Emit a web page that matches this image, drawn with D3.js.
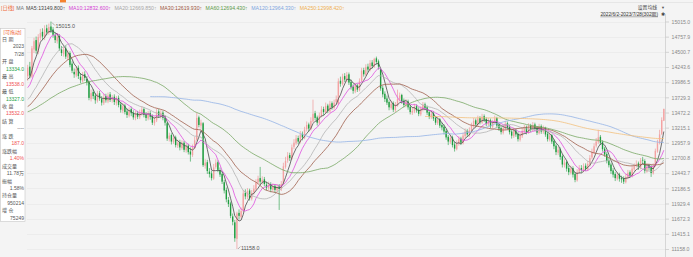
<!DOCTYPE html>
<html><head><meta charset="utf-8">
<script src="https://cdn.jsdelivr.net/npm/d3@7"></script>
<style>
html,body{margin:0;padding:0;background:#f4f4f4;overflow:hidden}
svg{display:block;font-family:"Liberation Sans","Noto Sans CJK SC",sans-serif}
</style></head><body>
<svg id="c" width="693" height="257"></svg>
<script>
// ---- data ----
const yTicks = [15015.0,14757.9,14500.7,14243.6,13986.5,13729.3,13472.2,13215.1,12957.9,12700.8,12443.7,12186.5,11929.4,11672.3,11415.1,11158.0];
const highMark = 15015.0, lowMark = 11158.0;
const maPeriods = [5,10,20,30,60,120,250];
const maNames = ["MA5","MA10","MA20","MA30","MA60","MA120","MA250"];
const maLegendValues = [13149.800,12832.600,12669.850,12619.930,12694.430,12964.330,12998.420];
const rangeText = "2022/6/2-2023/7/28(302期)";
const lastDate = ["2023","7/28"];
const volumeText = "11.78万", oiText = "950214", oiChangeText = "75249";
// closes before the first visible bar (estimated from where the MA lines start)
const priorCloses = [13420,13480,13390,13450,13520,13460,13380,13440,13500,13470,
13410,13360,13430,13490,13450,13380,13320,13400,13460,13420,
13350,13300,13380,13440,13400,13330,13290,13360,13420,13380,
13310,13260,13340,13400,13370,13300,13250,13330,13390,13350,
13290,13330,13400,13360,13420,13480,13440,13500,13560,13520,
13580,13650,13620,13700,13780,13850,13820,13920,14000,13960,14050];
const open = [14090,14250,14080,14540,14700,14500,14740,14840,14740,14900,
14820,14930,14880,14780,14680,14770,14540,14460,14560,14400,
14480,14300,14160,14100,14230,14080,14000,14120,14040,13990,
13700,13820,13760,13670,13800,13700,13630,13750,13660,13780,
13680,13740,13630,13720,13610,13500,13590,13490,13420,13530,
13470,13380,13460,13390,13460,13530,13440,13370,13460,13410,
13290,13340,13490,13410,13470,13390,13290,13020,13090,12970,
13050,12910,12970,12870,12960,12830,12910,12810,12750,12870,
13010,13390,13250,13290,12570,12630,12470,12440,12350,12550,
12630,12490,12430,12290,12160,11990,11930,11710,11610,11330,
11770,11700,11810,12110,12040,12150,12010,12120,12170,12290,
12360,12290,12340,12250,12190,12260,12160,12230,12150,12220,
12170,12270,12550,12660,12750,12690,12890,12950,13040,12970,
13110,13040,13190,13270,13190,13320,13460,13390,13290,13410,
13530,13470,13590,13490,13630,13550,13650,13620,14010,13950,
14090,14020,14120,13990,13910,13830,13930,13850,14010,14190,
14110,14250,14190,14320,14250,14390,14340,14200,13890,13790,
13710,13650,13550,13630,13510,13590,13690,13770,13670,13590,
13660,13570,13470,13490,13580,13520,13440,13520,13610,13560,
13480,13390,13460,13380,13290,13360,13260,13230,13160,13060,
12970,13050,12930,12850,12940,13030,12950,13070,13160,13090,
13160,13240,13340,13260,13380,13300,13410,13360,13270,13340,
13230,13310,13380,13260,13210,13130,13200,13290,13230,13150,
13070,13170,13110,13010,13070,13150,13220,13130,13250,13170,
13270,13210,13120,13240,13140,13210,13110,13010,13090,12990,
12910,12790,12850,12730,12580,12630,12530,12450,12530,12430,
12320,12470,12530,12490,12570,12510,12590,12710,12790,12910,
12970,13060,12970,12860,12770,12660,12590,12490,12430,12350,
12420,12360,12350,12290,12370,12460,12390,12510,12570,12610,
12530,12670,12650,12470,12570,12540,12440,12570,12810,12960,
13110,13334];
const high = [14280,14330,14600,14740,14760,14800,14890,14900,14950,14960,
14980,15015,14920,14830,14820,14800,14600,14590,14610,14530,
14510,14340,14220,14260,14270,14140,14160,14170,14090,14010,
13860,13870,13800,13840,13840,13750,13790,13790,13810,13820,
13770,13780,13750,13760,13650,13630,13620,13540,13560,13570,
13510,13500,13500,13520,13580,13560,13480,13500,13500,13440,
13400,13540,13530,13510,13500,13420,13310,13130,13120,13090,
13080,13010,13010,13000,12990,12950,12940,12880,12930,13060,
13470,13420,13350,13310,12680,12670,12530,12480,12600,12680,
12660,12540,12460,12330,12200,12040,11960,11760,11650,11790,
11830,11860,12160,12170,12190,12180,12160,12240,12340,12400,
12550,12390,12380,12300,12300,12290,12270,12260,12260,12260,
12310,12620,12720,12800,12790,12930,13020,13090,13080,13160,
13150,13230,13320,13300,13390,13690,13500,13420,13470,13580,
13570,13640,13620,13670,13660,13690,13760,14050,14080,14130,
14140,14160,14150,14030,13950,13970,13960,14050,14230,14230,
14290,14300,14360,14360,14400,14420,14370,14220,13930,13830,
13760,13680,13670,13660,13650,13860,13810,13790,13710,13700,
13690,13600,13560,13620,13610,13560,13580,13650,13640,13590,
13510,13500,13490,13410,13400,13380,13300,13270,13190,13090,
13090,13080,12970,13000,13070,13060,13130,13200,13190,13220,
13300,13380,13370,13420,13410,13450,13440,13390,13380,13370,
13350,13420,13400,13290,13240,13260,13330,13320,13260,13180,
13210,13200,13140,13130,13210,13260,13250,13290,13280,13310,
13300,13240,13280,13270,13250,13230,13140,13130,13110,13020,
12940,12890,12880,12760,12680,12660,12570,12570,12560,12460,
12510,12580,12580,12610,12610,12650,12750,12860,12950,13040,
13180,13090,13000,12890,12800,12700,12620,12530,12460,12460,
12450,12400,12390,12430,12500,12490,12570,12610,12660,12640,
12700,12720,12680,12610,12600,12580,12610,12860,13010,13180,
13390,13538];
const low = [14010,14050,14060,14480,14470,14460,14690,14700,14700,14780,
14790,14820,14740,14650,14640,14520,14430,14420,14380,14360,
14240,14140,14060,14070,14040,13970,13980,14010,13930,13680,
13660,13700,13620,13640,13670,13590,13600,13640,13630,13650,
13640,13600,13590,13560,13470,13460,13440,13380,13390,13410,
13350,13340,13360,13360,13420,13390,13330,13340,13350,13260,
13250,13310,13380,13370,13340,13250,12990,12980,12930,12940,
12880,12870,12830,12840,12800,12790,12760,12640,12720,12850,
12990,13220,13200,12550,12520,12430,12370,12320,12330,12520,
12460,12380,12260,12100,11950,11870,11680,11560,11280,11158,
11660,11670,11780,12000,12000,11980,11980,12080,12140,12250,
12260,12250,12220,12150,12160,12120,12130,12110,12120,11820,
12140,12250,12520,12620,12650,12670,12850,12920,12940,12950,
13000,13020,13150,13150,13170,13300,13340,13250,13270,13390,
13430,13450,13460,13470,13520,13520,13610,13600,13910,13930,
13990,13990,13940,13860,13790,13800,13820,13830,13990,14080,
14090,14150,14170,14220,14230,14290,14200,13840,13730,13650,
13600,13510,13520,13480,13480,13570,13660,13620,13560,13560,
13520,13440,13430,13460,13470,13410,13410,13490,13510,13430,
13360,13360,13330,13260,13260,13210,13170,13100,13010,12920,
12940,12880,12810,12830,12910,12920,12930,13040,13060,13060,
13130,13210,13230,13240,13270,13280,13310,13240,13240,13200,
13200,13280,13210,13160,13100,13100,13170,13180,13100,13030,
13040,13060,12980,12980,13040,13120,13100,13110,13140,13150,
13160,13090,13100,13110,13110,13060,12980,12980,12940,12850,
12750,12750,12670,12540,12540,12470,12410,12420,12370,12290,
12300,12430,12450,12460,12480,12480,12560,12680,12770,12880,
12940,12920,12810,12720,12610,12540,12430,12370,12310,12320,
12300,12280,12260,12270,12340,12360,12370,12480,12540,12500,
12510,12600,12440,12450,12490,12380,12420,12550,12790,12930,
13090,13327];
const close = [14230,14100,14560,14680,14520,14750,14820,14760,14880,14830,
14920,14860,14790,14700,14760,14560,14480,14540,14420,14470,
14280,14180,14120,14210,14090,14020,14100,14060,13980,13720,
13800,13750,13680,13790,13710,13640,13730,13680,13760,13690,
13720,13650,13700,13600,13520,13580,13480,13430,13510,13460,
13390,13450,13400,13470,13520,13430,13380,13450,13400,13300,
13350,13480,13420,13460,13380,13300,13030,13080,12980,13040,
12920,12960,12880,12950,12840,12900,12800,12760,12880,13000,
13380,13260,13300,12580,12620,12480,12430,12360,12540,12620,
12500,12420,12300,12150,12000,11920,11720,11620,11340,11760,
11720,11800,12100,12050,12140,12020,12110,12180,12280,12350,
12300,12330,12260,12200,12250,12170,12220,12160,12210,12180,
12260,12560,12650,12740,12700,12880,12960,13030,12980,13100,
13050,13180,13260,13200,13330,13450,13380,13300,13420,13520,
13480,13580,13500,13620,13560,13640,13700,14000,13960,14080,
14030,14110,13980,13900,13840,13920,13860,14000,14180,14120,
14240,14200,14310,14260,14380,14330,14250,13880,13780,13700,
13640,13560,13620,13520,13600,13700,13760,13660,13600,13650,
13560,13480,13500,13570,13510,13450,13530,13600,13550,13470,
13400,13450,13370,13300,13350,13250,13220,13150,13050,12980,
13040,12920,12860,12950,13020,12960,13080,13150,13100,13170,
13250,13330,13270,13370,13310,13400,13350,13280,13330,13240,
13300,13370,13250,13200,13140,13210,13280,13220,13140,13080,
13160,13100,13020,13080,13160,13210,13140,13240,13180,13260,
13200,13130,13230,13150,13200,13100,13020,13080,12980,12900,
12800,12840,12720,12590,12620,12520,12460,12520,12420,12330,
12460,12520,12500,12560,12520,12600,12700,12800,12900,12980,
13050,12960,12850,12760,12650,12580,12480,12420,12360,12410,
12350,12340,12300,12380,12450,12400,12520,12560,12600,12540,
12660,12661,12480,12560,12530,12447,12560,12822,12950,13100,
13345,13532];

// ---- drawing ----
const W = 693, H = 257;
const svg = d3.select('#c');
const UP = '#f4a2a2', UPW = '#ee8a8a', DN = '#1f9c3f';
const RED = '#ef4f4f', GREEN = '#23a043', GREY = '#555';
const maColors = ['#4a4a4a','#e050e0','#b4b4b4','#a0604c','#78a865','#93b3e6','#f2c07c'];
const legendColors = ['#444','#d33ed3','#a8a8a8','#9c5440','#5c9a48','#7fa6e0','#f0b050'];

svg.append('rect').attr('width', W).attr('height', H).attr('fill', '#f4f4f4');

const n = close.length;
const x = d3.scaleBand().domain(d3.range(n)).range([27, 664.5]).paddingInner(0.35);
const xc = i => x(i) + x.bandwidth() / 2;
const y = d3.scaleLinear().domain([11158, 15015]).range([249, 21.5]);

// toolbar remnants at top
svg.append('line').attr('x1', 0).attr('x2', W).attr('y1', 2.5).attr('y2', 2.5).attr('stroke', '#dcdcdc').attr('stroke-width', 0.6);
svg.append('rect').attr('x', 60).attr('y', 0).attr('width', 6).attr('height', 2.4).attr('fill', '#f5822f');

// grid
svg.append('g').selectAll('line').data(yTicks).join('line')
  .attr('x1', 27).attr('x2', 665).attr('y1', d => Math.round(y(d)) + 0.5).attr('y2', d => Math.round(y(d)) + 0.5)
  .attr('stroke', '#e6e6e6').attr('stroke-width', 0.6);

// right axis
svg.append('line').attr('x1', 665.5).attr('x2', 665.5).attr('y1', 14).attr('y2', H).attr('stroke', '#c9c9c9').attr('stroke-width', 0.7);
const ax = svg.append('g').attr('transform', 'translate(665.5,0)')
  .call(d3.axisRight(y).tickValues(yTicks).tickFormat(d => d.toFixed(1)).tickSize(3.5).tickPadding(2.5));
ax.select('.domain').remove();
ax.selectAll('line').attr('stroke', '#bdbdbd').attr('stroke-width', 0.6);
ax.selectAll('text').attr('fill', '#8a8a8a').attr('font-size', 5.2).attr('font-family', 'Liberation Sans, sans-serif');

// candles
const bars = d3.range(n).map(i => ({i, o: open[i], h: high[i], l: low[i], c: close[i]}));
const cg = svg.append('g');
cg.selectAll('line').data(bars).join('line')
  .attr('x1', d => xc(d.i)).attr('x2', d => xc(d.i))
  .attr('y1', d => y(d.h)).attr('y2', d => y(d.l))
  .attr('stroke', d => d.c >= d.o ? UPW : DN).attr('stroke-width', 0.6);
cg.selectAll('rect').data(bars).join('rect')
  .attr('x', d => x(d.i)).attr('width', x.bandwidth())
  .attr('y', d => y(Math.max(d.o, d.c)))
  .attr('height', d => Math.max(0.7, Math.abs(y(d.o) - y(d.c))))
  .attr('fill', d => d.c >= d.o ? UP : DN);

// moving averages
const allC = priorCloses.concat(close);
const P = priorCloses.length;
function movingAvg(p) {
  return close.map((_, i) => {
    const ci = i + P;
    if (ci < p - 1) return {i, v: null};
    return {i, v: d3.mean(allC.slice(ci - p + 1, ci + 1))};
  });
}
const line = d3.line().defined(d => d.v != null).x(d => xc(d.i)).y(d => y(d.v));
maPeriods.forEach((p, k) => {
  svg.append('path').datum(movingAvg(p)).attr('d', line)
    .attr('fill', 'none').attr('stroke', maColors[k]).attr('stroke-width', 0.8);
});

// high / low markers
const hi = d3.maxIndex(high), lo = d3.minIndex(low);
const hx = xc(hi), hy = y(high[hi]);
svg.append('line').attr('x1', hx + 1).attr('y1', hy + 1).attr('x2', hx + 4).attr('y2', hy + 4).attr('stroke', '#666').attr('stroke-width', 0.5);
svg.append('text').attr('x', hx + 4.5).attr('y', hy + 6.5).attr('font-size', 5.4).attr('fill', '#555').text(highMark.toFixed(1));
const lx = xc(lo), ly = y(low[lo]);
svg.append('line').attr('x1', lx + 1).attr('y1', ly).attr('x2', lx + 3.5).attr('y2', ly - 2.5).attr('stroke', '#666').attr('stroke-width', 0.5);
svg.append('text').attr('x', lx + 4).attr('y', ly + 1).attr('font-size', 5.4).attr('fill', '#555').text(lowMark.toFixed(1));

// legend line
const lg = svg.append('g').attr('font-size', 5.2);
let lx0 = 1;
function put(txt, col, gap) {
  const t = lg.append('text').attr('x', lx0).attr('y', 10).attr('fill', col).text(txt);
  lx0 += t.node().getComputedTextLength() + gap;
}
put('[日线]', '#f06a3a', 2);
put('MA', '#777', 2);
maNames.forEach((nm, k) => put(nm + ':' + maLegendValues[k].toFixed(3) + '↑', legendColors[k], 3.5));

// top right controls
svg.append('text').attr('x', 657).attr('y', 9).attr('text-anchor', 'end').attr('font-size', 4.8).attr('fill', '#444').text('设置均线');
svg.append('text').attr('x', 661).attr('y', 9).attr('font-size', 4).attr('fill', '#555').text('▼');
const rt = svg.append('text').attr('x', 658).attr('y', 16).attr('text-anchor', 'end').attr('font-size', 4.8).attr('fill', '#333').text(rangeText);
const rw = rt.node().getComputedTextLength();
svg.append('line').attr('x1', 658 - rw).attr('x2', 658).attr('y1', 16.8).attr('y2', 16.8).attr('stroke', '#444').attr('stroke-width', 0.4);
svg.append('text').attr('x', 660.5).attr('y', 15.5).attr('font-size', 4.5).attr('fill', '#444').text('✱');

// info panel
svg.append('rect').attr('x', 0.5).attr('y', 28.5).attr('width', 24.5).attr('height', 193).attr('fill', '#ffffff').attr('stroke', '#c6c6c6').attr('stroke-width', 0.6);
const last = n - 1, prev = close[last - 1];
const colOf = v => v > prev ? RED : (v < prev ? GREEN : GREY);
const chg = close[last] - prev;
const rows = [
  {t: '[可拖动]', a: 'middle', c: '#f06a3a'},
  {t: '日 期', a: 'start', c: GREY},
  {t: lastDate[0], a: 'end', c: GREY},
  {t: lastDate[1], a: 'end', c: GREY},
  {t: '开 盘', a: 'start', c: GREY},
  {t: open[last].toFixed(1), a: 'end', c: colOf(open[last])},
  {t: '最 高', a: 'start', c: GREY},
  {t: high[last].toFixed(1), a: 'end', c: colOf(high[last])},
  {t: '最 低', a: 'start', c: GREY},
  {t: low[last].toFixed(1), a: 'end', c: colOf(low[last])},
  {t: '收 盘', a: 'start', c: GREY},
  {t: close[last].toFixed(1), a: 'end', c: colOf(close[last])},
  {t: '结 算', a: 'start', c: GREY},
  {t: '----', a: 'end', c: GREY},
  {t: '涨 跌', a: 'start', c: GREY},
  {t: chg.toFixed(1), a: 'end', c: chg >= 0 ? RED : GREEN},
  {t: '涨跌幅', a: 'start', c: GREY},
  {t: (chg / prev * 100).toFixed(2) + '%', a: 'end', c: chg >= 0 ? RED : GREEN},
  {t: '成交量', a: 'start', c: GREY},
  {t: volumeText, a: 'end', c: GREY},
  {t: '振幅', a: 'start', c: GREY},
  {t: ((high[last] - low[last]) / prev * 100).toFixed(2) + '%', a: 'end', c: GREY},
  {t: '持仓量', a: 'start', c: GREY},
  {t: oiText, a: 'end', c: GREY},
  {t: '增 仓', a: 'start', c: GREY},
  {t: oiChangeText, a: 'end', c: GREY}
];
svg.append('g').attr('font-size', 5).selectAll('text').data(rows).join('text')
  .attr('x', d => d.a === 'start' ? 2 : (d.a === 'end' ? 24 : 12.5))
  .attr('y', (d, k) => 31.7 + k * 7.45 + 1.8)
  .attr('text-anchor', d => d.a)
  .attr('fill', d => d.c)
  .text(d => d.t);
</script>
</body></html>
